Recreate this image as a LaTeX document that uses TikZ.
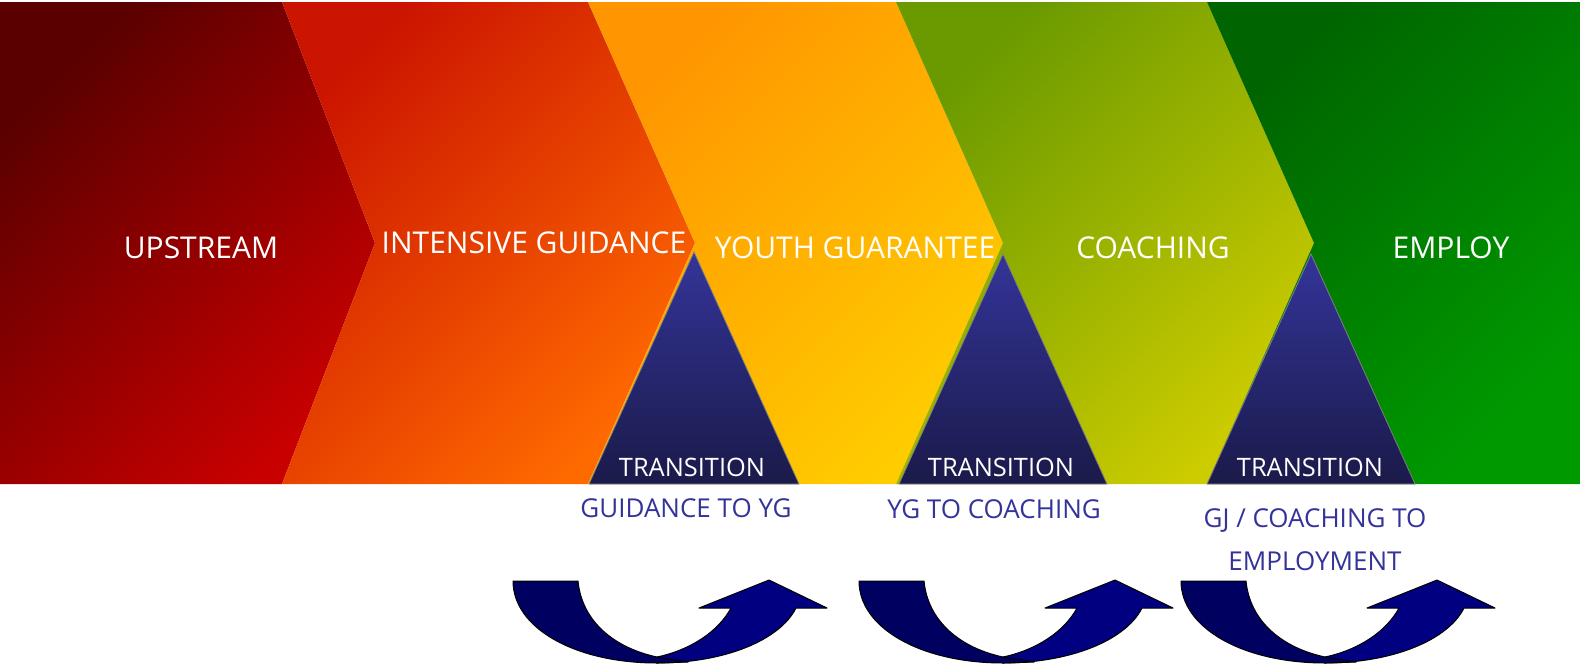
\documentclass[tikz,border=0pt]{standalone}
\usepackage{fontspec}
\setmainfont{Open Sans}
\definecolor{c1a}{HTML}{5A0000}\definecolor{c1b}{HTML}{C80000}
\definecolor{c2a}{HTML}{CC1500}\definecolor{c2b}{HTML}{FF6A00}
\definecolor{c3a}{HTML}{FF9500}\definecolor{c3b}{HTML}{FFCC00}
\definecolor{c4a}{HTML}{6A9A00}\definecolor{c4b}{HTML}{CCCC00}
\definecolor{c5a}{HTML}{006400}\definecolor{c5b}{HTML}{009A00}
\definecolor{triTop}{HTML}{343499}\definecolor{triBot}{HTML}{1A1A4A}
\definecolor{subblue}{HTML}{333399}
\definecolor{arrDark}{HTML}{000060}\definecolor{arrLight}{HTML}{000080}
\begin{document}
\begin{tikzpicture}[x=1pt,y=-1pt,
  lbl/.style={text=white,inner sep=0pt,anchor=base,font=\fontsize{30}{36}\selectfont},
  trlbl/.style={text=white,inner sep=0pt,anchor=base,font=\fontsize{25.4}{30}\selectfont},
  sublbl/.style={text=subblue,inner sep=0pt,anchor=base,font=\fontsize{26}{31}\selectfont},
  tri/.style={top color=triTop,bottom color=triBot,draw=gray,line width=0.8pt},
  arrdark/.style={fill=arrDark,draw=black,line width=1pt,line join=round},
  arrlight/.style={fill=arrLight,draw=black,line width=1pt,line join=round}]
\useasboundingbox (0,0) rectangle (1580,664);
\fill[white] (0,0) rectangle (1580,664);
% chevrons
\shade[top color=c1a,bottom color=c1b,shading angle=45]
  (0,2) -- (282,2) -- (375,243) -- (282,484) -- (0,484) -- cycle;
\shade[top color=c2a,bottom color=c2b,shading angle=45]
  (282,2) -- (588,2) -- (695,243) -- (588,484) -- (282,484) -- (375,243) -- cycle;
\shade[top color=c3a,bottom color=c3b,shading angle=45]
  (588,2) -- (896,2) -- (1003,243) -- (896,484) -- (588,484) -- (695,243) -- cycle;
\shade[top color=c4a,bottom color=c4b,shading angle=45]
  (896,2) -- (1207,2) -- (1314,243) -- (1207,484) -- (896,484) -- (1003,243) -- cycle;
\shade[top color=c5a,bottom color=c5b,shading angle=45]
  (1207,2) -- (1580,2) -- (1580,484) -- (1207,484) -- (1314,243) -- cycle;
% transition triangles
\shade[tri] (694,252) -- (799,484) -- (589,484) -- cycle;
\shade[tri] (1003,254) -- (1107,484) -- (899,484) -- cycle;
\shade[tri] (1311,254) -- (1415,484) -- (1207,484) -- cycle;
% labels
\node[lbl] (up) at (201,258) {UPSTREAM};
\node[lbl] (ig) at (534,253) {INTENSIVE GUIDANCE};
\node[lbl] (yg) at (855,258) {YOUTH GUARANTEE};
\node[lbl] (co) at (1153,258) {COACHING};
\node[lbl] (em) at (1451,258) {EMPLOY};
\node[trlbl] (t1) at (692,476) {TRANSITION};
\node[trlbl] (t2) at (1001,476) {TRANSITION};
\node[trlbl] (t3) at (1310,476) {TRANSITION};
\node[sublbl] (s1) at (686,517) {GUIDANCE TO YG};
\node[sublbl] (s2) at (994,518) {YG TO COACHING};
\node[sublbl] (s3a) at (1315,527) {GJ / COACHING TO};
\node[sublbl] (s3b) at (1315,570) {EMPLOYMENT};
% curved arrows
\foreach \dx in {0,346,668}{
  \begin{scope}[xshift=\dx]
    \path[arrlight] (657,657) .. controls (690,650) and (718,632) .. (731,608)
      -- (699,608) -- (769,580) -- (827,608) -- (796,608)
      .. controls (780,640) and (725,663) .. (657,663) -- cycle;
    \path[arrdark] (513,581) -- (578,581) .. controls (582,622) and (615,648) .. (657,657)
      -- (688,662) -- (657,663) .. controls (575,663) and (513,628) .. (513,581) -- cycle;
  \end{scope}
}
\end{tikzpicture}
\end{document}
